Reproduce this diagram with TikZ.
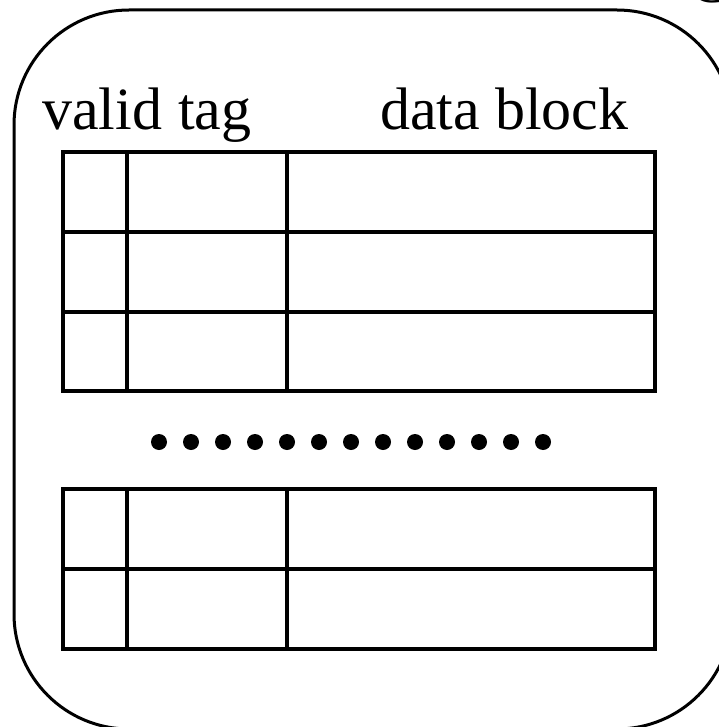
\documentclass[tikz,border=0pt]{standalone}
\usepackage{fontspec}
\setmainfont{Liberation Serif}
\begin{document}
\begin{tikzpicture}[x=1pt,y=-1pt,
  grid/.style={line width=4pt},
  frame/.style={line width=3pt, rounded corners=115pt},
  lbl/.style={anchor=base west, inner sep=0pt, font=\fontsize{60}{60}\selectfont},
  dot/.style={circle, fill=black, inner sep=0pt, minimum size=16pt}]
\useasboundingbox (0,0) rectangle (718,727);
\draw[frame] (14,10) rectangle (732,729);
\node[lbl] (c) at (689,3) {C};
\node[lbl] (valid) at (42,130) {valid};
\node[lbl] (tag) at (178,130) {tag};
\node[lbl] (data) at (380,130) {data block};
% upper table
\draw[grid] (63,152) rectangle (655,391);
\draw[grid] (63,232) -- (655,232);
\draw[grid] (63,312) -- (655,312);
\draw[grid] (127,152) -- (127,391);
\draw[grid] (287,152) -- (287,391);
% lower table
\draw[grid] (63,489) rectangle (655,649);
\draw[grid] (63,569) -- (655,569);
\draw[grid] (127,489) -- (127,649);
\draw[grid] (287,489) -- (287,649);
% dots
\foreach \i in {0,...,12}{\node[dot] (d\i) at (159+32*\i,442) {};}
\end{tikzpicture}
\end{document}
